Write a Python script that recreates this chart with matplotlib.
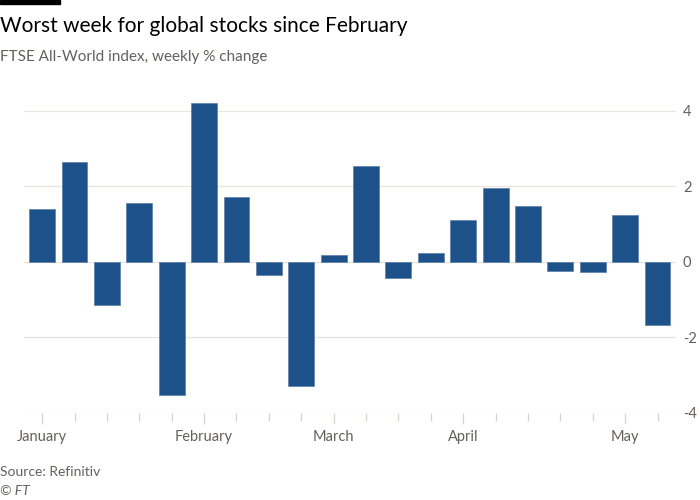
import matplotlib
matplotlib.use("Agg")
import matplotlib.pyplot as plt
import numpy as np

# Variacion semanal % del FTSE All-World
semanas = list(range(20))
cambio_pct = [1.41, 2.64, -1.15, 1.57, -3.52, 4.21, 1.71, -0.35, -3.28, 0.19,
              2.53, -0.43, 0.24, 1.12, 1.95, 1.47, -0.24, -0.27, 1.25, -1.68]
meses = ["January", "February", "March", "April", "May"]
meses_pos = [0, 5, 9, 13, 18]
y_ticks = [-4, -2, 0, 2, 4]

COLOR_BAR = "#1d5189"
COLOR_GRID = "#e9e4e0"
COLOR_TICK = "#d9d2cc"
COLOR_DIM = "#66605c"

plt.rcParams["font.family"] = ["Lato", "DejaVu Sans"]

fig = plt.figure(figsize=(7, 5), dpi=100, facecolor="white")
ax = fig.add_axes([24 / 700, 0.174, 652 / 700, 0.638])

ax.bar(semanas, cambio_pct, width=0.8, color=COLOR_BAR,
       edgecolor="#5b7fa8", linewidth=0.5, zorder=3)

ax.set_xlim(-0.56, len(semanas) - 1 + 0.57)
ax.set_ylim(-4, 4.45)

# eje Y a la derecha con grilla horizontal
ax.yaxis.tick_right()
ax.set_yticks(y_ticks)
ax.set_yticklabels([f"{v}" for v in y_ticks])
ax.tick_params(axis="y", length=0, pad=5, labelsize=10.5, labelcolor=COLOR_DIM)
ax.grid(axis="y", color=COLOR_GRID, linewidth=0.9, zorder=0)
for s in ax.spines.values():
    s.set_visible(False)

# ticks menores por semana, mayores en cada mes
ax.set_xticks(semanas, minor=True)
ax.set_xticks(meses_pos)
ax.set_xticklabels(meses)
ax.tick_params(axis="x", which="minor", length=5.5, width=0.9, color=COLOR_TICK)
ax.tick_params(axis="x", which="major", length=8, width=0.9, color=COLOR_TICK,
               labelsize=10.5, labelcolor=COLOR_DIM, pad=4)

fig.add_artist(plt.Rectangle((0, 1 - 4 / 500), 60 / 700, 4 / 500,
                             transform=fig.transFigure, color="black"))
fig.text(0.0, 0.948, "Worst week for global stocks since February",
         fontsize=15, color="black", va="center", ha="left")
fig.text(0.0, 0.886, "FTSE All-World index, weekly % change",
         fontsize=11, color=COLOR_DIM, va="center", ha="left")
fig.text(0.0, 0.055, "Source: Refinitiv", fontsize=10, color=COLOR_DIM,
         va="center", ha="left")
fig.text(0.0, 0.018, "© FT", fontsize=10, color=COLOR_DIM, style="italic",
         va="center", ha="left")

fig.savefig("out.png", dpi=100, facecolor="white")
